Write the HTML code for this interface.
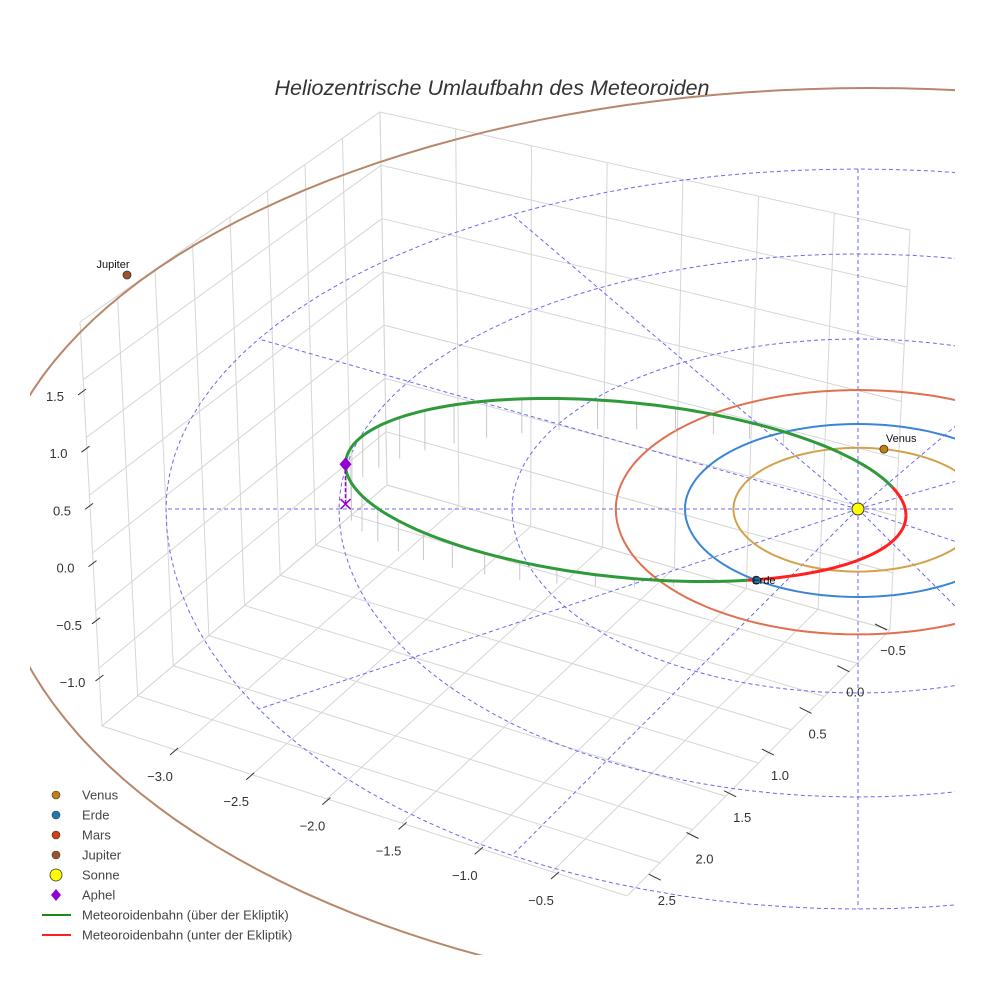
<!DOCTYPE html>
<html><head><meta charset="utf-8"><style>
body{margin:0;background:#fff;}
svg{display:block;font-family:"Liberation Sans",sans-serif;}
</style></head><body>
<svg id="c" width="984" height="984" viewBox="0 0 984 984">
<defs><clipPath id="clip"><rect x="30" y="0" width="925" height="955"/></clipPath></defs>
<rect width="984" height="984" fill="#fff"/>
<g id="grid"></g>
<g id="scene" clip-path="url(#clip)"></g>
<g id="ticks"></g>
<text x="492" y="95" text-anchor="middle" font-size="21.5" font-style="italic" fill="#333">Heliozentrische Umlaufbahn des Meteoroiden</text>
<g id="legend"></g>
</svg>
<script>
const xTicks=["−3.0","−2.5","−2.0","−1.5","−1.0","−0.5"];
const yTicks=["−0.5","0.0","0.5","1.0","1.5","2.0","2.5"];
const zTicks=["1.5","1.0","0.5","0.0","−0.5","−1.0"];
const ringRadii=[1,2,3,4];
const radialAngles=[0,30,60,90,120,150,180,210,240,270,300,330];
const planetNames=["Venus","Erde","Mars","Jupiter"];
const planetOrbits=[0.72,1.0,1.4,5.2];
const planetColors=["#d4a24c","#3a86d6","#e07050","#b8866a"];
const planetMarker=["#c47f10","#1f77b4","#d04010","#a0522d"];
const planetAngles=[-78,126,null,197];
const meteorA=[1.62];const meteorE=[0.53];
const legendLabels=["Venus","Erde","Mars","Jupiter","Sonne","Aphel","Meteoroidenbahn (über der Ekliptik)","Meteoroidenbahn (unter der Ekliptik)"];

const NS="http://www.w3.org/2000/svg";
function mk(tag,attrs,parent){const e=document.createElementNS(NS,tag);for(const k in attrs)e.setAttribute(k,attrs[k]);parent.appendChild(e);return e;}
const grid=document.getElementById('grid'),scene=document.getElementById('scene'),ticks=document.getElementById('ticks'),legend=document.getElementById('legend');
const SX=858,SY=509,KX=173,KYT=85;
function ryb(r){return 88*r+4*r*(r-1);}
function proj(r,deg){const a=deg*Math.PI/180;const s=Math.sin(a);return [SX+KX*r*Math.cos(a),SY+(s<0?KYT*r:ryb(r))*s];}
function ringPath(r){let d="";for(let i=0;i<=360;i+=3){const p=proj(r,i);d+=(i?"L":"M")+p[0].toFixed(1)+" "+p[1].toFixed(1);}return d;}
function lerp(a,b,t){return [a[0]+(b[0]-a[0])*t,a[1]+(b[1]-a[1])*t];}
function quad(P,nu,nv,name){for(let i=0;i<=nu;i++){const t=i/nu;const a=lerp(P[0],P[1],t),b=lerp(P[3],P[2],t);const l=mk('line',{x1:a[0],y1:a[1],x2:b[0],y2:b[1],stroke:"#d6d6d6","stroke-width":1},grid);}
for(let j=0;j<=nv;j++){const t=j/nv;const a=lerp(P[0],P[3],t),b=lerp(P[1],P[2],t);const l=mk('line',{x1:a[0],y1:a[1],x2:b[0],y2:b[1],stroke:"#d6d6d6","stroke-width":1},grid);}}
const A=[102,726],B=[627,896],C=[890,630],D=[387,485],Ap=[80,322],Dp=[380,112],Cp=[910,230];
quad([A,B,C,D],xTicks.length+1,yTicks.length+1,'floor');
quad([A,D,Dp,Ap],yTicks.length+1,zTicks.length+1,'left-wall');
quad([D,C,Cp,Dp],xTicks.length+1,zTicks.length+1,'back-wall');
xTicks.forEach((t,i)=>{const x=160+i*76.2,y=777+i*24.8;
const l=mk('line',{x1:x+10,y1:y-22,x2:x+18,y2:y-29,stroke:"#333"},ticks);
const e=mk('text',{x:x,y:y+4,"font-size":13,fill:"#333","text-anchor":"middle"},ticks);e.textContent=t;});
yTicks.forEach((t,i)=>{const x=893-i*37.7,y=651+i*41.7;
const l=mk('line',{x1:x-18,y1:y-27,x2:x-6,y2:y-21,stroke:"#333"},ticks);
const e=mk('text',{x:x,y:y+4,"font-size":13,fill:"#333","text-anchor":"middle"},ticks);e.textContent=t;});
zTicks.forEach((t,i)=>{const x=55+i*3.5,y=397+i*57.2;
const l=mk('line',{x1:x+23,y1:y-2,x2:x+31,y2:y-8,stroke:"#333"},ticks);
const e=mk('text',{x:x,y:y+4,"font-size":13,fill:"#333","text-anchor":"middle"},ticks);e.textContent=t;});
ringRadii.forEach(r=>{const p=mk('path',{d:ringPath(r),fill:"none",stroke:"#6a6aee","stroke-width":1,"stroke-dasharray":"4 3"},scene);});
const rmax=ringRadii[ringRadii.length-1];
radialAngles.forEach(a=>{const p=proj(rmax,a);const l=mk('line',{x1:SX,y1:SY,x2:p[0],y2:p[1],stroke:"#6a6aee","stroke-width":1,"stroke-dasharray":"4 3"},scene);});
(function(){let d="";const cx=870,cy=525;for(let i=0;i<=360;i+=2){const a=i*Math.PI/180,s=Math.sin(a);const x=cx+880*Math.cos(a),y=cy+(s<0?437:480)*s;d+=(i?"L":"M")+x.toFixed(1)+" "+y.toFixed(1);}
const p=mk('path',{d:d,fill:"none",stroke:planetColors[3],"stroke-width":2},scene);})();
for(let k=0;k<3;k++){const r=planetOrbits[k];const p=mk('path',{d:ringPath(r),fill:"none",stroke:planetColors[k],"stroke-width":2},scene);}
const a=meteorA[0],e=meteorE[0];
const MRX=KX*a,MRY=79*Math.sqrt(1-e*e)/Math.sqrt(1-0.53*0.53);
const perihelionX=SX+48;
const centerX=perihelionX-MRX, centerY=508, rot=0.8*Math.PI/180;
function mpt(t){const x0=MRX*Math.cos(t),y0=MRY*Math.sin(t);const px=centerX+x0*Math.cos(rot)-y0*Math.sin(rot),py=centerY+x0*Math.sin(rot)+y0*Math.cos(rot);const off=23.6*Math.cos(t-22*Math.PI/180)-18;return [px,py,off];}
let segs=[];let cur=null;
for(let i=0;i<=360;i+=2){const t=i*Math.PI/180;const p=mpt(t);const below=p[2]>0;if(!cur||cur.below!==below){if(cur)cur.pts.push([p[0],p[1]+p[2]]);cur={below:below,pts:[]};segs.push(cur);}cur.pts.push([p[0],p[1]+p[2]]);
if(i%8===0&&Math.abs(p[2])>3){const l=mk('line',{x1:p[0],y1:p[1],x2:p[0],y2:p[1]+p[2],stroke:"#c8c8c8","stroke-width":1},scene);}}
segs.forEach(s=>{const d=s.pts.map((q,i)=>(i?"L":"M")+q[0].toFixed(1)+" "+q[1].toFixed(1)).join("");const p=mk('path',{d:d,fill:"none",stroke:s.below?"#ff2020":"#2e9a3a","stroke-width":3,"stroke-linejoin":"round"},scene);});
const ap=mpt(Math.PI);
const al=mk('line',{x1:ap[0],y1:ap[1],x2:ap[0],y2:ap[1]+ap[2],stroke:"#9400d3","stroke-width":1.5,"stroke-dasharray":"4 2"},scene);
const dm=mk('path',{d:`M${ap[0]} ${ap[1]+ap[2]-7}l6 7l-6 7l-6-7z`,fill:"#9400d3"},scene);
const xm=mk('path',{d:`M${ap[0]-5} ${ap[1]-5}l10 10M${ap[0]+5} ${ap[1]-5}l-10 10`,stroke:"#9400d3","stroke-width":1.5},scene);
[0,1,3].forEach(k=>{let p;if(k===3)p=[127,275];else p=proj(planetOrbits[k],planetAngles[k]);
const c=mk('circle',{cx:p[0],cy:p[1],r:4,fill:planetMarker[k],stroke:"#333","stroke-width":0.8},scene);
const t=mk('text',{x:k===3?p[0]-14:(k===1?p[0]-4:p[0]+2),y:p[1]-(k===1?-4:7),"font-size":11,fill:"#111","text-anchor":k===3?"middle":"start"},scene);t.textContent=planetNames[k];});
const sun=mk('circle',{cx:SX,cy:SY,r:6,fill:"#ffff00",stroke:"#333","stroke-width":1},scene);
const lgSym=["#c47f10","#1f77b4","#d04010","#a0522d","#ffff00","#9400d3","#1a8a1a","#ff2020"];
legendLabels.forEach((lab,i)=>{const y=795+i*20;const g=mk('g',{},legend);
if(i<4)mk('circle',{cx:56,cy:y,r:4,fill:lgSym[i],stroke:"#333","stroke-width":0.6},g);
else if(i===4)mk('circle',{cx:56,cy:y,r:6,fill:lgSym[i],stroke:"#333","stroke-width":0.8},g);
else if(i===5)mk('path',{d:`M56 ${y-6}l5 6l-5 6l-5-6z`,fill:lgSym[i]},g);
else mk('line',{x1:42,y1:y,x2:71,y2:y,stroke:lgSym[i],"stroke-width":2},g);
const t=mk('text',{x:82,y:y+4.5,"font-size":13,fill:"#444"},g);t.textContent=lab;});
</script>
</body></html>
